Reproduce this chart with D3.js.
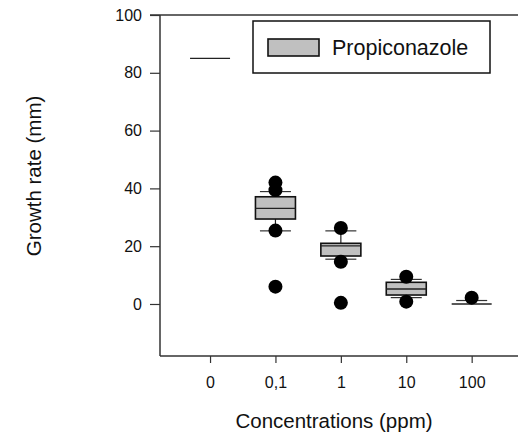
<!DOCTYPE html>
<html>
<head>
<meta charset="utf-8">
<script src="https://cdn.jsdelivr.net/npm/d3@7"></script>
<style>
  html, body { margin: 0; padding: 0; background: #fff; }
  svg { display: block; font-family: "Liberation Sans", Arial, sans-serif; }
</style>
</head>
<body>
<svg id="chart" width="518" height="440"></svg>
<script>
// ---- data ----
const categories = ["0", "0,1", "1", "10", "100"];
const q1Values = [85, 29.4, 16.6, 3.1, 0];
const medianValues = [85, 33.1, 20.1, 5.2, 0];
const q3Values = [85, 37.1, 21.0, 7.5, 0];
const whiskerLow = [85, 25.3, 15.5, 2.2, 0];
const whiskerHigh = [85, 38.9, 25.3, 8.5, 1.2];
const outlierValues = [[], [42.0, 39.4, 25.4, 6.0], [26.3, 14.6, 0.4], [9.4, 0.8], [2.2]];
const yTicks = [0, 20, 40, 60, 80, 100];
const seriesName = "Propiconazole";
const xTitle = "Concentrations (ppm)";
const yTitle = "Growth rate (mm)";

(function () {
// ---- layout ----
const svg = d3.select("#chart");
const mLeft = 160, mTop = 15, mBottom = 356, mRight = 524;

const x = d3.scaleLinear().domain([-0.765, 4.8]).range([mLeft, mRight]);
const y = d3.scaleLinear().domain([-18, 100]).range([mBottom, mTop]);

const boxW = 40, capW = 31, r = 7;

// top frame line
svg.append("line")
  .attr("x1", 150).attr("x2", 518).attr("y1", y(100)).attr("y2", y(100))
  .attr("stroke", "#666").attr("stroke-width", 2);

// Y axis
const yAxis = d3.axisLeft(y).tickValues(yTicks).tickSize(10).tickPadding(8).tickFormat(d3.format("d"));
const gy = svg.append("g").attr("transform", `translate(${mLeft},0)`).call(yAxis);
gy.select(".domain").remove();
gy.selectAll(".tick line").attr("stroke", "#333").attr("stroke-width", 1.2);
gy.selectAll(".tick text").attr("font-size", 16).attr("fill", "#111")
  .attr("font-family", "Liberation Sans, Arial, sans-serif");
svg.append("line").attr("x1", mLeft).attr("x2", mLeft).attr("y1", mTop).attr("y2", mBottom)
  .attr("stroke", "#333").attr("stroke-width", 1.5);

// X axis
const xAxis = d3.axisBottom(x).tickValues(d3.range(categories.length))
  .tickFormat(i => categories[i]).tickSize(7).tickPadding(14);
const gx = svg.append("g").attr("transform", `translate(0,${mBottom})`).call(xAxis);
gx.select(".domain").remove();
gx.selectAll(".tick line").attr("stroke", "#333").attr("stroke-width", 1.2);
gx.selectAll(".tick text").attr("font-size", 16).attr("fill", "#111")
  .attr("font-family", "Liberation Sans, Arial, sans-serif");
svg.append("line").attr("x1", mLeft).attr("x2", 518).attr("y1", mBottom).attr("y2", mBottom)
  .attr("stroke", "#333").attr("stroke-width", 1.5);

// boxes
const data = categories.map((c, i) => ({
  i, q1: q1Values[i], med: medianValues[i], q3: q3Values[i],
  lo: whiskerLow[i], hi: whiskerHigh[i], out: outlierValues[i]
}));

const g = svg.append("g");
data.forEach(d => {
  const cx = x(d.i);
  if (d.hi > d.q3) {
    g.append("line").attr("x1", cx).attr("x2", cx).attr("y1", y(d.q3)).attr("y2", y(d.hi))
      .attr("stroke", "#222").attr("stroke-width", 1.2);
    g.append("line").attr("x1", cx - capW / 2).attr("x2", cx + capW / 2).attr("y1", y(d.hi)).attr("y2", y(d.hi))
      .attr("stroke", "#333").attr("stroke-width", 1.2);
  }
  if (d.lo < d.q1) {
    g.append("line").attr("x1", cx).attr("x2", cx).attr("y1", y(d.q1)).attr("y2", y(d.lo))
      .attr("stroke", "#222").attr("stroke-width", 1.2);
    g.append("line").attr("x1", cx - capW / 2).attr("x2", cx + capW / 2).attr("y1", y(d.lo)).attr("y2", y(d.lo))
      .attr("stroke", "#333").attr("stroke-width", 1.2);
  }
  if (d.q3 > d.q1) {
    g.append("rect").attr("x", cx - boxW / 2).attr("y", y(d.q3))
      .attr("width", boxW).attr("height", y(d.q1) - y(d.q3))
      .attr("fill", "#c0c0c0").attr("stroke", "#111").attr("stroke-width", 1.6);
  }
  g.append("line").attr("x1", cx - boxW / 2).attr("x2", cx + boxW / 2)
    .attr("y1", y(d.med)).attr("y2", y(d.med))
    .attr("stroke", "#222").attr("stroke-width", 1.4);
  d.out.forEach(v => {
    g.append("circle").attr("cx", cx).attr("cy", y(v)).attr("r", r).attr("fill", "#000");
  });
});

// legend
const lg = svg.append("g");
lg.append("rect").attr("x", 253).attr("y", 21).attr("width", 237).attr("height", 52)
  .attr("fill", "#fff").attr("stroke", "#111").attr("stroke-width", 1.5);
lg.append("rect").attr("x", 268).attr("y", 39).attr("width", 51).attr("height", 17)
  .attr("fill", "#c0c0c0").attr("stroke", "#111").attr("stroke-width", 1.6);
lg.append("text").attr("x", 332).attr("y", 55).attr("font-size", 21.5).attr("fill", "#111")
  .text(seriesName);

// titles
svg.append("text").attr("x", 334).attr("y", 428).attr("text-anchor", "middle")
  .attr("font-size", 20.5).attr("fill", "#111").text(xTitle);
svg.append("text").attr("transform", "translate(41,176) rotate(-90)").attr("text-anchor", "middle")
  .attr("font-size", 20.5).attr("fill", "#111").text(yTitle);
})();
</script>
</body>
</html>
